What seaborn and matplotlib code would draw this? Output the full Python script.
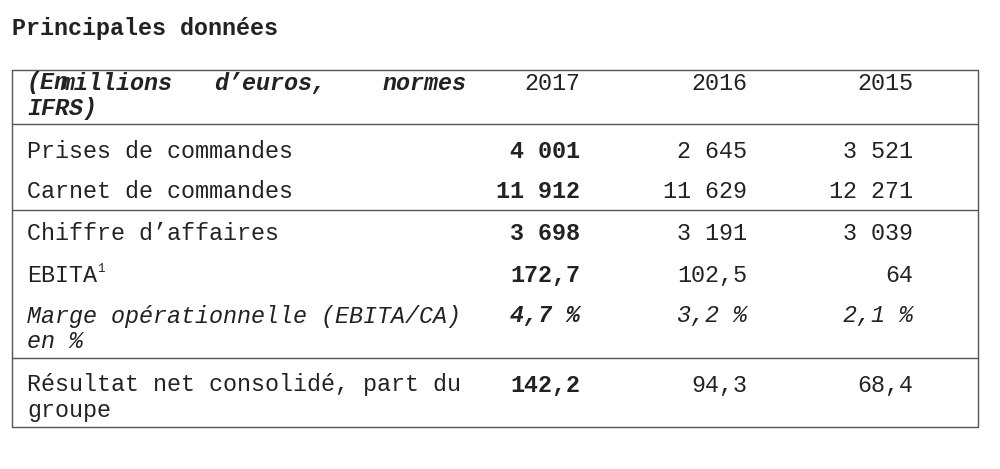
import matplotlib
matplotlib.use("Agg")
import matplotlib.pyplot as plt
import seaborn as sns

sns.set_style("white")
plt.rcParams['font.family'] = ['Liberation Mono', 'DejaVu Sans Mono']

title = "Principales données"
years = ["2017", "2016", "2015"]
labels = ["Prises de commandes", "Carnet de commandes", "Chiffre d\u2019affaires",
          "EBITA", "Marge opérationnelle (EBITA/CA)\nen %", "Résultat net consolidé, part du\ngroupe"]
v2017 = ["4 001", "11 912", "3 698", "172,7", "4,7 %", "142,2"]
v2016 = ["2 645", "11 629", "3 191", "102,5", "3,2 %", "94,3"]
v2015 = ["3 521", "12 271", "3 039", "64", "2,1 %", "68,4"]

fig = plt.figure(figsize=(10, 4.69), dpi=100)
ax = fig.add_axes([0, 0, 1, 1])
ax.set_xlim(0, 1000); ax.set_ylim(469, 0); ax.axis("off")

fs = 16.8
col = "#222"
ax.text(12, 28, title, fontsize=fs, fontweight="bold", va="center", color=col)

ax.plot([12, 978, 978, 12, 12], [70, 70, 427, 427, 70], color="#555", lw=1)
for y in [124, 210, 358]:
    ax.plot([12, 978], [y, y], color="#555", lw=1)

words = ["(En", "millions", "d\u2019euros,", "normes"]
xs = [27, 60, 214, 383]
for w, x in zip(words, xs):
    ax.text(x, 83, w, fontsize=fs, fontweight="bold", style="italic", va="center", color=col)
ax.text(27, 108, "IFRS)", fontsize=fs, fontweight="bold", style="italic", va="center", color=col)

colx = [580, 747, 913]
for yr, x in zip(years, colx):
    ax.text(x, 83, yr, fontsize=fs, ha="right", va="center", color=col)

rowy = [152, 192, 234, 275, 316, 385]
for i, (lab, y) in enumerate(zip(labels, rowy)):
    it = "italic" if i == 4 else "normal"
    for j, ln in enumerate(lab.split("\n")):
        ax.text(27, y + 25 * j, ln, fontsize=fs, style=it, va="center", color=col)
    if lab == "EBITA":
        ax.text(27 + 5 * 14.0, y - 6, "1", fontsize=9, va="center", color=col)
    ax.text(colx[0], y, v2017[i], fontsize=fs, fontweight="bold", style=it, ha="right", va="center", color=col)
    ax.text(colx[1], y, v2016[i], fontsize=fs, style=it, ha="right", va="center", color=col)
    ax.text(colx[2], y, v2015[i], fontsize=fs, style=it, ha="right", va="center", color=col)

fig.savefig("out.png", dpi=100, facecolor="white")
